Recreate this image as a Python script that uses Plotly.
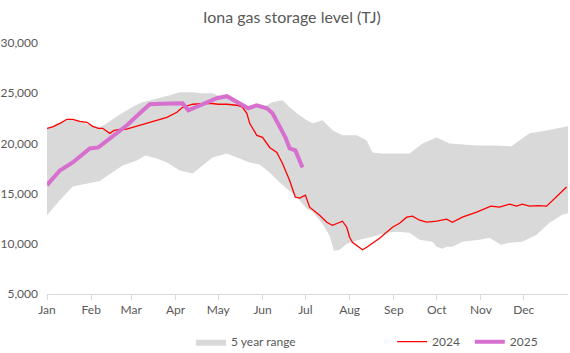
import pandas as pd
import plotly.graph_objects as go

# ---- data (day of year offset from 1 Jan, value in TJ) ----
range_upper_day = [0, 14, 23, 32, 37, 42, 49, 56, 62, 67, 73, 79, 86, 93, 102, 109, 116, 121, 126, 133, 140,
                   147, 151, 158, 165, 170, 175, 182, 186, 193, 200, 207, 217, 224, 228, 235, 242, 254, 263,
                   273, 282, 291, 301, 315, 325, 331, 338, 347, 357, 365]
range_upper_val = [21500, 22400, 22200, 21700, 21600, 22000, 22700, 23300, 23800, 24100, 24300, 24500, 24800,
                   25100, 25100, 25000, 25000, 24700, 24700, 24300, 23600, 23600, 23600, 24100, 24300, 23600,
                   23000, 22300, 22000, 22300, 21300, 20800, 20800, 20300, 19100, 19000, 19000, 19000, 20000,
                   20600, 20000, 19900, 19800, 19800, 19700, 20300, 21000, 21200, 21500, 21700]

range_lower_day = [0, 9, 18, 28, 37, 42, 48, 53, 63, 69, 77, 84, 93, 102, 109, 116, 126, 133, 142, 149, 156,
                   163, 170, 175, 182, 186, 193, 198, 201, 205, 210, 219, 228, 238, 245, 254, 261, 270, 273,
                   277, 280, 284, 291, 303, 310, 318, 324, 333, 343, 352, 361, 365]
range_lower_val = [12850, 14350, 15700, 16000, 16250, 16750, 17300, 17800, 18300, 18800, 18500, 18100, 17300,
                   17000, 17800, 18600, 19000, 18600, 18100, 17900, 17100, 16100, 15300, 14650, 13500, 13200,
                   12000, 10800, 9300, 9400, 10000, 10400, 10700, 11100, 11200, 11100, 10400, 10200, 9700,
                   9500, 9700, 9700, 10200, 10400, 10600, 9900, 10100, 10200, 10900, 12100, 12900, 13050]

y2024_day = [0, 4, 9, 14, 18, 23, 28, 32, 36, 39, 44, 47, 51, 55, 60, 65, 70, 77, 84, 91, 95, 102, 108, 114,
             120, 126, 133, 137, 140, 142, 147, 151, 156, 161, 165, 170, 174, 177, 181, 184, 191, 196, 200,
             203, 207, 210, 212, 214, 221, 224, 233, 242, 247, 252, 256, 261, 266, 273, 280, 284, 291, 301,
             311, 317, 324, 329, 333, 338, 344, 350, 357, 364]
y2024_val = [21500, 21650, 22000, 22400, 22400, 22200, 22100, 21700, 21500, 21500, 21000, 21300, 21400, 21400,
             21600, 21800, 22000, 22300, 22600, 23100, 23600, 23900, 23950, 24000, 23900, 23900, 23800, 23600,
             23000, 22000, 20800, 20600, 19600, 19100, 18000, 16300, 14650, 14550, 14850, 13650, 12850, 12150,
             11850, 12050, 12250, 11650, 10650, 10150, 9400, 9650, 10550, 11650, 12050, 12650, 12750, 12350,
             12150, 12250, 12450, 12150, 12650, 13150, 13750, 13650, 13950, 13750, 13950, 13750, 13800,
             13750, 14650, 15650]

y2025_day = [0, 9, 18, 25, 30, 36, 44, 50, 56, 65, 72, 80, 88, 95, 99, 104, 112, 119, 126, 133, 141, 147,
             154, 158, 163, 167, 170, 174, 179]
y2025_val = [15850, 17300, 18100, 18900, 19500, 19600, 20500, 21100, 21800, 23000, 23900, 23950, 23950, 24000,
             23300, 23600, 24100, 24500, 24700, 24100, 23500, 23800, 23500, 23000, 21600, 20600, 19500, 19300,
             17600]

month_labels = ["Jan", "Feb", "Mar", "Apr", "May", "Jun", "Jul", "Aug", "Sep", "Oct", "Nov", "Dec"]

start = pd.Timestamp("2025-01-01")
def to_dates(days):
    return [start + pd.Timedelta(days=d) for d in days]

month_ticks = [pd.Timestamp(2025, m, 1) for m in range(1, 13)]

FONT = "Lato"
GREY_TXT = "#595959"

fig = go.Figure()
fig.add_trace(go.Scatter(x=to_dates(range_lower_day), y=range_lower_val, mode="lines",
                         line=dict(width=0, color="#d9d9d9"), showlegend=False, hoverinfo="skip"))
fig.add_trace(go.Scatter(x=to_dates(range_upper_day), y=range_upper_val, mode="lines", fill="tonexty",
                         fillcolor="#d9d9d9", line=dict(width=0, color="#d9d9d9"),
                         name="5 year range", legend="legend"))
fig.add_trace(go.Scatter(x=to_dates(y2024_day), y=y2024_val, mode="lines",
                         line=dict(width=1.3, color="#ff0000"), name="2024", legend="legend2"))
fig.add_trace(go.Scatter(x=to_dates(y2025_day), y=y2025_val, mode="lines",
                         line=dict(width=4, color="#d66fce"), name="2025", legend="legend3"))

legend_common = dict(orientation="h", yanchor="middle", y=-0.19, xanchor="left",
                     font=dict(family=FONT, size=12, color=GREY_TXT), bgcolor="rgba(0,0,0,0)")

fig.update_layout(
    width=570, height=353,
    margin=dict(l=47, r=2, t=43, b=59, autoexpand=False),
    paper_bgcolor="white", plot_bgcolor="white",
    font=dict(family=FONT, color=GREY_TXT),
    title=dict(text="Iona gas storage level (TJ)", x=0.512, xanchor="center", y=0.95, yanchor="middle",
               font=dict(family=FONT, size=16, color=GREY_TXT)),
    xaxis=dict(type="date", range=[start, start + pd.Timedelta(days=365)],
               tickvals=month_ticks, ticktext=month_labels,
               ticks="outside", ticklen=5, tickcolor="#d9d9d9", showgrid=False,
               showline=True, linecolor="#d9d9d9", linewidth=1,
               tickfont=dict(family=FONT, size=12, color=GREY_TXT), zeroline=False),
    yaxis=dict(range=[5000, 30000], tickvals=[5000, 10000, 15000, 20000, 25000, 30000],
               tickformat=",d", showgrid=False, zeroline=False, showline=False,
               ticklabelstandoff=8,
               tickfont=dict(family=FONT, size=12, color=GREY_TXT)),
    legend=dict(x=0.2765, **legend_common),
    legend2=dict(x=0.6624, **legend_common),
    legend3=dict(x=0.8115, **legend_common),
)

fig.write_html("out.html")
